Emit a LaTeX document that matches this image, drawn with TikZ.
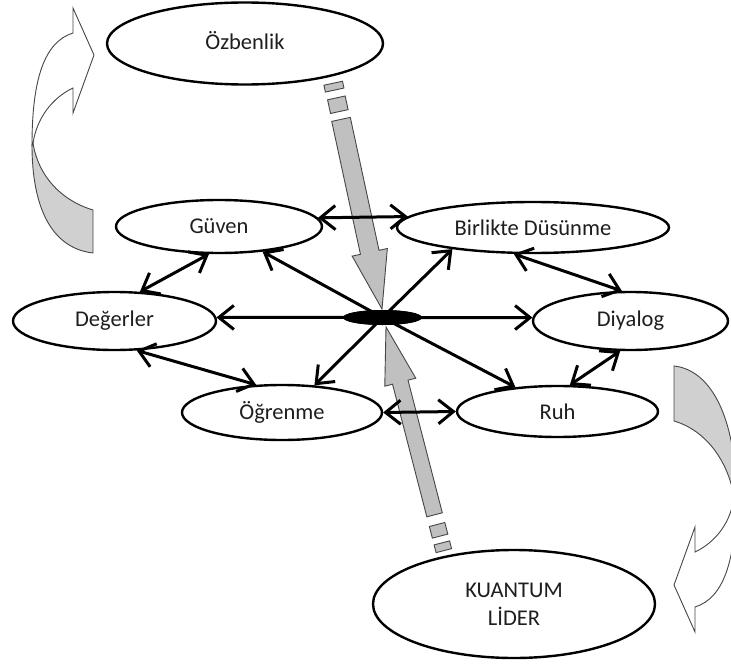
\documentclass[tikz,border=0pt]{standalone}
\usepackage{fontspec}
\setmainfont{Carlito}
\usetikzlibrary{shapes.geometric,arrows.meta}
\definecolor{arrowgray}{RGB}{192,192,192}
\definecolor{tailgray}{RGB}{208,208,208}
\definecolor{edgegray}{RGB}{70,70,70}
\definecolor{textdark}{RGB}{30,30,30}
\begin{document}
\begin{tikzpicture}[x=1pt,y=-1pt,
  oval/.style={ellipse, draw=black, line width=2.4pt, fill=white, inner sep=0pt,
    text=textdark, font=\fontsize{22.5}{28}\selectfont, align=center},
  link/.style={line width=3pt, -{Straight Barb[length=15pt,width=24pt]}},
  twoway/.style={line width=3pt, {Straight Barb[length=15pt,width=24pt]}-{Straight Barb[length=15pt,width=24pt]}},
  bigarrow/.style={fill=arrowgray, draw=edgegray, line width=0.9pt, line join=miter},
  ribbon/.style={draw=edgegray, line width=0.9pt}]
\useasboundingbox (0,0) rectangle (731,669);
\clip (0,0) rectangle (731,669);

% curved arrow, top left
\draw[ribbon, fill=tailgray] (32,145) .. controls (32,205) and (50,248) .. (93,253)
  -- (93,210) .. controls (60,200) and (38,175) .. (33,143) -- cycle;
\draw[ribbon, fill=white] (73,33) -- (73,8) -- (94,55) -- (73,113) -- (73,88)
  .. controls (52,98) and (37,118) .. (33,143) -- (32,145)
  .. controls (32,80) and (44,42) .. (73,33) -- cycle;

% curved arrow, bottom right
\draw[ribbon, fill=tailgray] (736,495) .. controls (736,420) and (712,370) .. (674,366)
  -- (674,421) .. controls (705,430) and (728,460) .. (734,497) -- cycle;
\draw[ribbon, fill=white] (695,607) .. controls (724,598) and (736,560) .. (736,495)
  -- (734,497) .. controls (731,522) and (716,542) .. (695,552)
  -- (695,527) -- (674,585) -- (695,632) -- cycle;

% big gray arrow from the top
\begin{scope}[shift={(382,309)}, rotate=102.2]
  \draw[bigarrow] (0,0) -- (58,18) -- (58,9.5) -- (194,9.5) -- (194,-9.5) -- (58,-9.5) -- (58,-18) -- cycle;
  \draw[bigarrow] (202,-9) rectangle (216,9);
  \draw[bigarrow] (224,-9.5) rectangle (231,9.5);
\end{scope}

% big gray arrow from the bottom
\begin{scope}[shift={(386,327)}, rotate=-75.5]
  \draw[bigarrow] (0,0) -- (57,16) -- (57,8) -- (194,8) -- (194,-8) -- (57,-8) -- (57,-16) -- cycle;
  \draw[bigarrow] (204,-8) rectangle (216,8);
  \draw[bigarrow] (223,-8) rectangle (231,8);
\end{scope}

% ellipses
\node[oval, minimum width=276pt, minimum height=82pt] (ozb) at (245,43.5) {\raisebox{7pt}{Özbenlik}};
\node[oval, minimum width=206pt, minimum height=53pt] (guv) at (219,226.5) {Güven};
\node[oval, minimum width=272pt, minimum height=51pt] (bir) at (533,227.5) {Birlikte Düsünme};
\node[oval, minimum width=203pt, minimum height=58pt] (deg) at (114.5,321) {Değerler};
\node[oval, minimum width=195pt, minimum height=58pt] (diy) at (630.5,321) {Diyalog};
\node[oval, minimum width=200pt, minimum height=55pt] (ogr) at (282,412.5) {Öğrenme};
\node[oval, minimum width=201pt, minimum height=51pt] (ruh) at (557.5,411.5) {Ruh};
\node[oval, minimum width=282pt, minimum height=108pt] (kua) at (514,604) {KUANTUM\\LİDER};
\node[ellipse, fill=black, minimum width=79pt, minimum height=15pt, inner sep=0pt] (c) at (382.5,317.5) {};

% radial arrows
\draw[link] (c.center) -- (guv.-30);
\draw[link] (c.center) -- (bir.-165);
\draw[link] (c.center) -- (deg.2);
\draw[link] (c.center) -- (diy.178);
\draw[link] (c.center) -- (ogr.40);
\draw[link] (c.center) -- (ruh.150);

% double arrows
\draw[twoway] (guv.5) -- (bir.175);
\draw[twoway] (guv.-110) -- (deg.49);
\draw[twoway] (bir.-126) -- (diy.106);
\draw[twoway] (diy.-109) -- (ruh.65);
\draw[twoway] (deg.-53) -- (ogr.133);
\draw[twoway] (ogr.east) -- (ruh.west);

\fill (c.center) ellipse [x radius=39.5pt, y radius=7.5pt];
\end{tikzpicture}
\end{document}
